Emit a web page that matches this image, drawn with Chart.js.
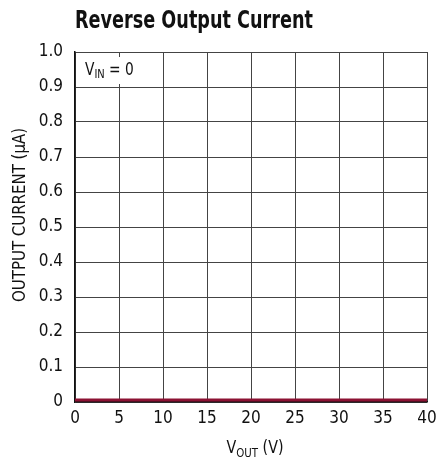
<!DOCTYPE html>
<html>
<head>
<meta charset="utf-8">
<script src="https://cdn.jsdelivr.net/npm/chart.js@4/dist/chart.umd.min.js"></script>
<style>
html,body{margin:0;padding:0;background:#fff;}
#wrap{width:436px;height:463px;position:relative;}
</style>
</head>
<body>
<div id="wrap"><canvas id="c" width="436" height="463"></canvas></div>
<script>
const titleText = "Reverse Output Current";
const vout = [0, 5, 10, 15, 20, 25, 30, 35, 40];
const current = [0.006, 0.006, 0.006, 0.006, 0.006, 0.006, 0.006, 0.006, 0.006];
const xTicks = [0, 5, 10, 15, 20, 25, 30, 35, 40];
const yTicks = [0, 0.1, 0.2, 0.3, 0.4, 0.5, 0.6, 0.7, 0.8, 0.9, 1.0];
const yTitle = "OUTPUT CURRENT (µA)";
const xTitle = ["V", "OUT", " (V)"];
const note = ["V", "IN", " = 0"];

const FONT = "'DejaVu Sans Condensed', 'Liberation Sans Narrow', sans-serif";

function fitText(ctx, text, x, y, font, targetW) {
  ctx.font = font;
  const w = ctx.measureText(text).width;
  const s = targetW / w;
  ctx.save();
  ctx.translate(x, y);
  ctx.scale(s, 1);
  ctx.textAlign = 'left';
  ctx.textBaseline = 'alphabetic';
  ctx.fillText(text, 0, 0);
  ctx.restore();
}

function drawSub(ctx, parts, x, y, size, align, squeeze) {
  const sub = size * 0.72;
  ctx.font = size + "px " + FONT;
  const w0 = ctx.measureText(parts[0]).width;
  ctx.font = sub + "px " + FONT;
  const w1 = ctx.measureText(parts[1]).width;
  ctx.font = size + "px " + FONT;
  const w2 = ctx.measureText(parts[2]).width;
  const total = (w0 + w1 + w2) * squeeze;
  let sx = align === 'center' ? x - total / 2 : x;
  ctx.save();
  ctx.translate(sx, y);
  ctx.scale(squeeze, 1);
  ctx.textAlign = 'left';
  ctx.textBaseline = 'alphabetic';
  ctx.font = size + "px " + FONT;
  ctx.fillText(parts[0], 0, 0);
  ctx.font = sub + "px " + FONT;
  ctx.fillText(parts[1], w0, size * 0.2);
  ctx.font = size + "px " + FONT;
  ctx.fillText(parts[2], w0 + w1, 0);
  ctx.restore();
}

const deco = {
  id: 'deco',
  beforeDatasetsDraw(chart) {
    const ctx = chart.ctx;
    const a = chart.chartArea;
    ctx.save();
    ctx.fillStyle = '#fff';
    ctx.fillRect(a.left + 4, a.top + 5, 62, 27);
    ctx.fillStyle = '#111';
    drawSub(ctx, note, a.left + 10, a.top + 23, 17, 'left', 0.9);
    ctx.restore();
  },
  afterDraw(chart) {
    const ctx = chart.ctx;
    ctx.save();
    ctx.fillStyle = '#111';
    fitText(ctx, titleText, 75, 28, "bold 25px " + FONT, 238);
    ctx.save();
    ctx.translate(25, 215);
    ctx.rotate(-Math.PI / 2);
    ctx.font = "17px " + FONT;
    const w = ctx.measureText(yTitle).width;
    ctx.scale(174 / w, 1);
    ctx.textAlign = 'center';
    ctx.textBaseline = 'alphabetic';
    ctx.fillText(yTitle, 0, 0);
    ctx.restore();
    drawSub(ctx, xTitle, 255, 453, 18, 'center', 0.88);
    ctx.restore();
  }
};

new Chart(document.getElementById('c'), {
  type: 'line',
  data: {
    datasets: [{
      data: vout.map((v, i) => ({x: v, y: current[i]})),
      borderColor: '#8c1233',
      borderWidth: 3,
      pointRadius: 0,
      fill: false,
      tension: 0
    }]
  },
  options: {
    responsive: false,
    animation: false,
    devicePixelRatio: 1,
    layout: { padding: { top: 52, right: 9, left: 0, bottom: 0 } },
    plugins: { legend: { display: false }, tooltip: { enabled: false }, title: { display: false } },
    scales: {
      x: {
        type: 'linear', min: 0, max: 40,
        afterBuildTicks: s => { s.ticks = xTicks.map(v => ({value: v})); },
        afterFit: s => { s.height = 61; s.paddingRight = 0; s.paddingLeft = 0; },
        grid: { color: '#444', lineWidth: 1, drawTicks: false },
        border: { color: '#111', width: 1.5 },
        ticks: { padding: 6, color: '#111', font: { family: FONT, size: 17 }, maxRotation: 0, callback: v => String(v) }
      },
      y: {
        type: 'linear', min: 0, max: 1.0,
        afterBuildTicks: s => { s.ticks = yTicks.map(v => ({value: v})); },
        afterFit: s => { s.width = 75; s.paddingTop = 0; s.paddingBottom = 0; },
        grid: { color: '#444', lineWidth: 1, drawTicks: false },
        border: { color: '#111', width: 1.5 },
        ticks: { padding: 12, color: '#111', font: { family: FONT, size: 17 }, callback: v => v === 0 ? '0' : v.toFixed(1) }
      }
    }
  },
  plugins: [deco]
});
</script>
</body>
</html>
